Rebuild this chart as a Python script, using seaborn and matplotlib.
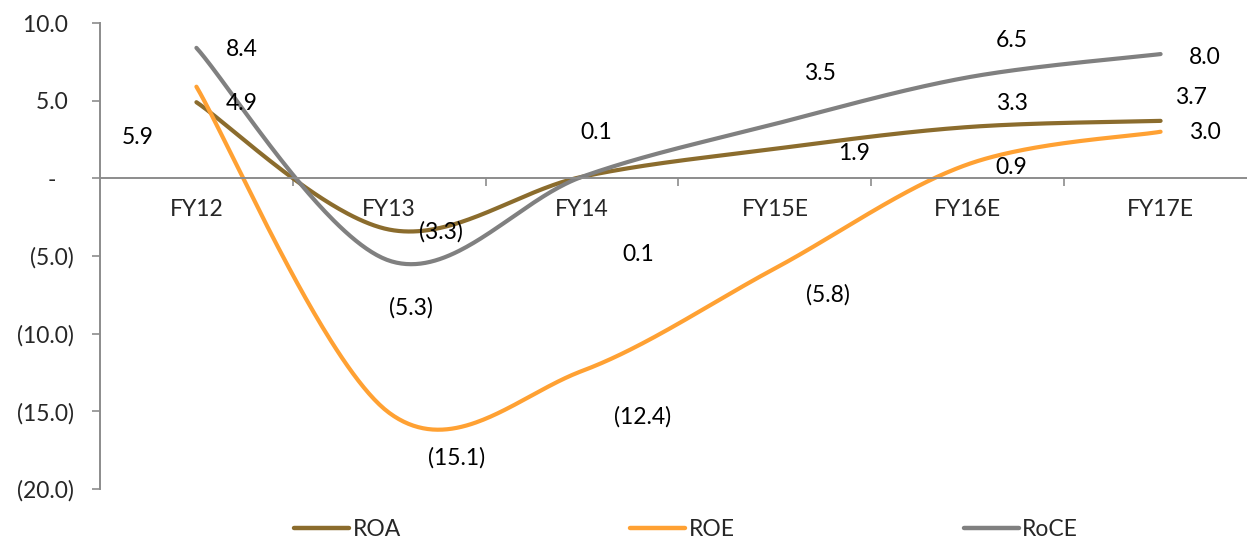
import numpy as np
import pandas as pd
import matplotlib
matplotlib.use("Agg")
import matplotlib.pyplot as plt
import seaborn as sns
from matplotlib.lines import Line2D
from matplotlib.ticker import FixedLocator, FuncFormatter, NullFormatter

# ---- data -------------------------------------------------------------
years = ["FY12", "FY13", "FY14", "FY15E", "FY16E", "FY17E"]
roa = [4.9, -3.3, 0.1, 1.9, 3.3, 3.7]
roe = [5.9, -15.1, -12.4, -5.8, 0.9, 3.0]
roce = [8.4, -5.3, 0.1, 3.5, 6.5, 8.0]
series_names = ["ROA", "ROE", "RoCE"]
y_ticks = [10, 5, 0, -5, -10, -15, -20]

# ---- style ------------------------------------------------------------
colors = {"ROA": "#8B6C2D", "ROE": "#FFA133", "RoCE": "#808080"}
axis_grey = "#8C8C8C"
FS = 16.5

# data-label offsets in pixels (right, up) from each point
label_offsets = {
    "ROA": [(45, -1), (52, -2), (56, -78), (79, -5), (44, 24), (30, 23)],
    "ROE": [(-59, -51), (67, -45), (60, -46), (53, -26), (44, -3), (44, -1)],
    "RoCE": [(45, -2), (22, -47), (14, 44), (45, 50), (44, 37), (44, -3)],
}


def smooth(values, n=80):
    """Catmull-Rom curve through evenly spaced category points."""
    px = np.arange(len(values), dtype=float)
    py = np.asarray(values, dtype=float)
    ex = np.concatenate([[px[0]], px, [px[-1]]])
    ey = np.concatenate([[py[0]], py, [py[-1]]])
    xs, ys = [], []
    for i in range(len(values) - 1):
        t = np.linspace(0, 1, n, endpoint=(i == len(values) - 2))
        h00 = 2 * t**3 - 3 * t**2 + 1
        h10 = t**3 - 2 * t**2 + t
        h01 = -2 * t**3 + 3 * t**2
        h11 = t**3 - t**2
        for e, out in ((ex, xs), (ey, ys)):
            p0, p1, p2, p3 = e[i], e[i + 1], e[i + 2], e[i + 3]
            m1 = (p2 - p0) / 2
            m2 = (p3 - p1) / 2
            out.append(h00 * p1 + h10 * m1 + h01 * p2 + h11 * m2)
    return np.concatenate(xs), np.concatenate(ys)


values = {"ROA": roa, "ROE": roe, "RoCE": roce}
frames = []
for name in series_names:
    sx, sy = smooth(values[name])
    frames.append(pd.DataFrame({"x": sx, "value": sy, "series": name}))
curves = pd.concat(frames, ignore_index=True)

sns.set_style("white")
plt.rcParams["font.family"] = ["Lato", "DejaVu Sans"]

W, H = 1247, 541
fig = plt.figure(figsize=(W / 100, H / 100), dpi=100)
ax = fig.add_axes([100 / W, 1 - 489 / H, 1157 / W, 466 / H])

sns.lineplot(data=curves, x="x", y="value", hue="series", hue_order=series_names,
             palette=colors, sort=False, estimator=None, units="series",
             linewidth=3, legend=False, ax=ax)
for ln in ax.lines:
    ln.set_solid_capstyle("round")

ax.set_xlim(-0.5, len(years) - 0.5)
ax.set_ylim(-20, 10)
ax.set_xlabel("")
ax.set_ylabel("")

# axes
for side in ("top", "right"):
    ax.spines[side].set_visible(False)
for side in ("left", "bottom"):
    ax.spines[side].set_color(axis_grey)
    ax.spines[side].set_linewidth(1.4)
ax.spines["bottom"].set_position(("data", 0))

# x: boundary ticks, labels centred on categories
ax.xaxis.set_major_locator(FixedLocator(np.arange(0.5, len(years) - 1, 1.0)))
ax.xaxis.set_major_formatter(NullFormatter())
ax.xaxis.set_minor_locator(FixedLocator(np.arange(len(years))))
ax.xaxis.set_minor_formatter(FuncFormatter(lambda v, p: years[int(round(v))]))
ax.tick_params(axis="x", which="major", direction="out", length=6, width=1.2,
               color=axis_grey, bottom=True)
ax.tick_params(axis="x", which="minor", length=0, pad=15, labelsize=FS,
               bottom=True)


def fmt_y(v, pos):
    if abs(v) < 1e-9:
        return "-   "
    if v > 0:
        return f"{v:.1f} "
    return f"({abs(v):.1f})"


ax.yaxis.set_major_locator(FixedLocator(y_ticks))
ax.yaxis.set_major_formatter(FuncFormatter(fmt_y))
ax.tick_params(axis="y", direction="out", length=6, width=1.2, color=axis_grey,
               labelsize=FS, pad=13, left=True)
ax.grid(False)


def fmt_label(v):
    return f"{v:.1f}" if v >= 0 else f"({abs(v):.1f})"


for name in series_names:
    for i, v in enumerate(values[name]):
        dx, dy = label_offsets[name][i]
        ax.annotate(fmt_label(v), (i, v), xytext=(dx, dy),
                    textcoords="offset pixels", ha="center", va="center",
                    fontsize=FS, color="black", annotation_clip=False)

handles = [Line2D([0], [0], color=colors[n], lw=3.2, solid_capstyle="round")
           for n in series_names]
fig.legend(handles, series_names, loc="center", bbox_to_anchor=(686 / W, 1 - 530 / H),
           ncol=3, frameon=False, fontsize=FS, handlelength=2.4,
           handletextpad=0.15, columnspacing=10.0, borderpad=0)

fig.savefig("out.png", dpi=100)
